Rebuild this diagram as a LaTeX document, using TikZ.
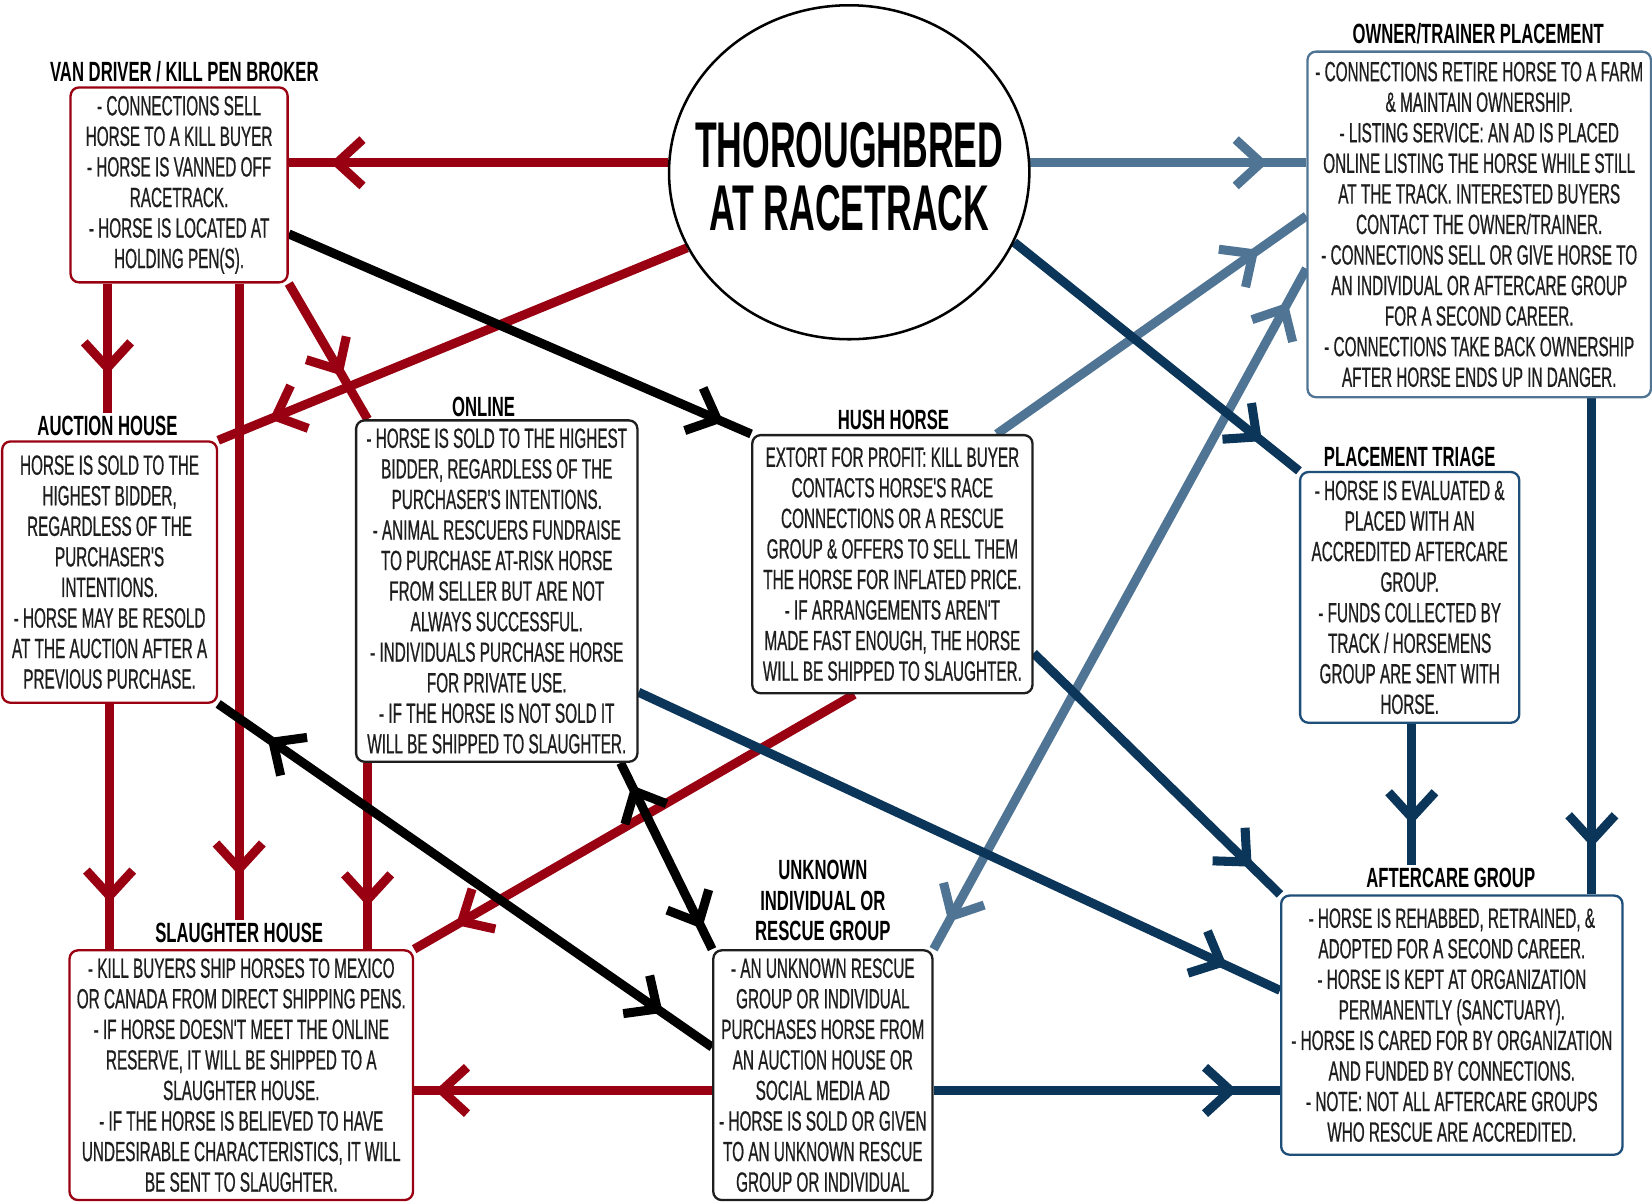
\documentclass[tikz,border=0pt]{standalone}
\usepackage{fontspec}
\setmainfont{Liberation Sans}[FakeStretch=0.55]
\newfontfamily\bodyfont{Liberation Sans}[FakeStretch=0.55,FakeBold=0.6]
\newfontfamily\headfont{Liberation Sans}[FakeStretch=0.6]
\usetikzlibrary{arrows.meta,decorations.markings,shapes.geometric,calc}
\pgfdeclarelayer{bg}
\pgfsetlayers{bg,main}
\definecolor{cred}{HTML}{990011}
\definecolor{steel}{HTML}{507494}
\definecolor{navy}{HTML}{0B3559}
\definecolor{boxnavy}{HTML}{1F4E79}
\definecolor{txt}{HTML}{1E1E1E}
\tikzset{
  every node/.style={font=\bodyfont\fontsize{13.2}{14.5}\selectfont, text=txt},
  box/.style={draw, rounded corners=4pt, line width=1.1pt, fill=white, align=center, inner sep=2pt},
  ttl/.style={font=\headfont\bfseries\fontsize{13.2}{14.5}\selectfont, text=black, align=center, inner sep=1pt},
  conn/.style={line width=4.3pt, line cap=butt},
  fwd/.style={postaction={decorate,decoration={markings,mark=at position #1 with {\arrow{Straight Barb[length=12pt,width=22pt,line width=4.3pt]}}}}},
  bwd/.style={postaction={decorate,decoration={markings,mark=at position #1 with {\arrowreversed{Straight Barb[length=12pt,width=22pt,line width=4.3pt]}}}}},
}
\begin{document}
\begin{tikzpicture}[x=0.5pt,y=-0.5pt]
\useasboundingbox (0,0) rectangle (1568,1141);

% centre
\node[draw, ellipse, line width=1.2pt, minimum width=171pt, minimum height=158.5pt, inner sep=0pt, fill=white] (circ) at (806,163.5) {};
\node[font=\rmfamily\bfseries\fontsize{30.7}{30}\selectfont, align=center, text=black] (circt) at (806,168) {THOROUGHBRED\\AT RACETRACK};

% boxes
\node[box, draw=cred, minimum width=103pt, minimum height=92.5pt] (van) at (170,175.5)
 {- CONNECTIONS SELL\\HORSE TO  A KILL BUYER\\- HORSE IS VANNED OFF\\RACETRACK.\\- HORSE IS LOCATED AT\\HOLDING PEN(S).};
\node[ttl] (vant) at (175,68) {VAN DRIVER /  KILL PEN BROKER};

\node[box, draw=steel, minimum width=163pt, minimum height=164pt] (owner) at (1404,213)
 {- CONNECTIONS RETIRE HORSE TO A FARM\\\& MAINTAIN OWNERSHIP.\\- LISTING SERVICE: AN AD IS PLACED\\ONLINE LISTING THE HORSE WHILE STILL\\AT THE TRACK. INTERESTED BUYERS\\CONTACT THE OWNER/TRAINER.\\- CONNECTIONS SELL OR GIVE HORSE TO\\AN INDIVIDUAL OR AFTERCARE GROUP\\FOR A SECOND CAREER.\\- CONNECTIONS TAKE BACK OWNERSHIP\\AFTER HORSE ENDS UP IN DANGER.};
\node[ttl] (ownert) at (1403,32) {OWNER/TRAINER PLACEMENT};

\node[box, draw=cred, minimum width=102pt, minimum height=124pt] (auction) at (104,543)
 {HORSE IS SOLD TO THE\\HIGHEST BIDDER,\\REGARDLESS OF THE\\PURCHASER'S\\INTENTIONS.\\- HORSE MAY BE RESOLD\\AT THE AUCTION AFTER A\\PREVIOUS PURCHASE.};
\node[ttl] (auctiont) at (102,404) {AUCTION HOUSE};

\node[box, draw=txt, minimum width=133.5pt, minimum height=162pt] (online) at (471.5,561)
 {- HORSE IS SOLD TO THE HIGHEST\\BIDDER, REGARDLESS OF THE\\PURCHASER'S INTENTIONS.\\- ANIMAL RESCUERS FUNDRAISE\\TO PURCHASE AT-RISK HORSE\\FROM SELLER BUT ARE NOT\\ALWAYS SUCCESSFUL.\\- INDIVIDUALS PURCHASE HORSE\\FOR PRIVATE USE.\\- IF THE HORSE IS NOT SOLD IT\\WILL BE SHIPPED TO SLAUGHTER.};
\node[ttl] (onlinet) at (459,386) {ONLINE};

\node[box, draw=txt, minimum width=133pt, minimum height=122.5pt] (hush) at (847,535.5)
 {EXTORT FOR PROFIT: KILL BUYER\\CONTACTS HORSE'S RACE\\CONNECTIONS OR A RESCUE\\GROUP \& OFFERS TO SELL THEM\\THE HORSE FOR INFLATED PRICE.\\- IF ARRANGEMENTS AREN'T\\MADE FAST ENOUGH, THE HORSE\\WILL BE SHIPPED TO SLAUGHTER.};
\node[ttl] (husht) at (848,399) {HUSH HORSE};

\node[box, draw=boxnavy, minimum width=104pt, minimum height=119pt] (triage) at (1338,567)
 {- HORSE IS EVALUATED \&\\PLACED WITH AN\\ACCREDITED AFTERCARE\\GROUP.\\-  FUNDS COLLECTED BY\\TRACK / HORSEMENS\\GROUP ARE SENT WITH\\HORSE.};
\node[ttl] (triaget) at (1338,434) {PLACEMENT TRIAGE};

\node[box, draw=cred, minimum width=163pt, minimum height=118.5pt] (slaughter) at (229,1020.5)
 {- KILL BUYERS SHIP HORSES TO MEXICO\\OR CANADA FROM DIRECT SHIPPING PENS.\\- IF HORSE DOESN'T MEET THE ONLINE\\RESERVE, IT WILL BE SHIPPED TO A\\SLAUGHTER HOUSE.\\- IF THE HORSE IS BELIEVED TO HAVE\\UNDESIRABLE CHARACTERISTICS, IT WILL\\BE SENT TO SLAUGHTER.};
\node[ttl] (slaughtert) at (227,885) {SLAUGHTER HOUSE};

\node[box, draw=txt, minimum width=104pt, minimum height=118.5pt] (unknown) at (781,1020.5)
 {- AN UNKNOWN RESCUE\\GROUP OR INDIVIDUAL\\PURCHASES HORSE FROM\\AN AUCTION HOUSE OR\\SOCIAL MEDIA AD\\- HORSE IS SOLD OR GIVEN\\TO AN UNKNOWN  RESCUE\\GROUP OR INDIVIDUAL};
\node[ttl] (unknownt) at (781,855) {UNKNOWN\\INDIVIDUAL OR\\RESCUE GROUP};

\node[box, draw=boxnavy, minimum width=162pt, minimum height=123pt] (aftercare) at (1378,973)
 {- HORSE IS REHABBED, RETRAINED, \&\\ADOPTED FOR A SECOND CAREER.\\-  HORSE IS KEPT AT ORGANIZATION\\PERMANENTLY (SANCTUARY).\\- HORSE IS CARED FOR BY ORGANIZATION\\AND FUNDED BY CONNECTIONS.\\- NOTE: NOT ALL AFTERCARE GROUPS\\WHO RESCUE ARE ACCREDITED.};
\node[ttl] (aftercaret) at (1377,833) {AFTERCARE GROUP};

% helper coordinates
\coordinate (g1) at ($(online.south west)+(12,0)$);
\coordinate (q1) at ($(owner.south west)+(271,0)$);
\coordinate (r1) at ($(triage.south)+(2,0)$);
\coordinate (i1) at ($(unknown.west)+(0,14.5)$);
\coordinate (u1) at ($(unknown.east)+(0,14.5)$);

\begin{pgfonlayer}{bg}
% red
\draw[conn,cred,fwd=0.89] (circ.177) -- (circ.177 -| van.east);
\draw[conn,cred,fwd=0.89] (circ.205) -- (auction.north east);
\draw[conn,cred,fwd=0.7] (van.south -| auctiont.north) -- (auctiont.north);
\draw[conn,cred,fwd=0.93] (van.south -| slaughtert.north) -- (slaughtert.north);
\draw[conn,cred,fwd=0.68] (van.south east) -- ($(online.north west)+(12,0)$);
\draw[conn,cred,fwd=0.81] (auction.south) -- (auction.south |- slaughter.north);
\draw[conn,cred,fwd=0.77] (g1) -- (g1 |- slaughter.north);
\draw[conn,cred,fwd=0.905] ($(hush.south west)+(98,0)$) -- (slaughter.north east);
\draw[conn,cred,fwd=0.93] (i1) -- (i1 -| slaughter.east);
% black
\draw[conn,black,fwd=0.94] ($(van.east)+(0,46.5)$) -- (hush.north west);
\draw[conn,black,fwd=0.9,bwd=0.1] (auction.south east) -- ($(unknown.north west)+(0,93)$);
\draw[conn,black,fwd=0.89,bwd=0.12] ($(online.south east)+(-17,0)$) -- (unknown.north west);
% steel blue
\draw[conn,steel,fwd=0.86] (circ.3) -- (circ.3 -| owner.west);
\draw[conn,steel,fwd=0.845] ($(hush.north east)+(-35,0)$) -- ($(owner.west)+(0,-8)$);
\draw[conn,steel,fwd=0.95,bwd=0.04] (unknown.north east) -- ($(owner.west)+(0,42)$);
% navy
\draw[conn,navy,fwd=0.87] (circ.-23) -- (triage.north west);
\draw[conn,navy,fwd=0.905] (q1) -- (q1 |- aftercare.north);
\draw[conn,navy,fwd=0.71] (r1) -- (r1 |- aftercaret.north);
\draw[conn,navy,fwd=0.885] ($(hush.east)+(0,84.5)$) -- (aftercare.north west);
\draw[conn,navy,fwd=0.917] ($(online.east)+(0,96)$) -- ($(aftercare.west)+(0,-33)$);
\draw[conn,navy,fwd=0.876] (u1) -- (u1 -| aftercare.west);
\end{pgfonlayer}
\end{tikzpicture}
\end{document}
